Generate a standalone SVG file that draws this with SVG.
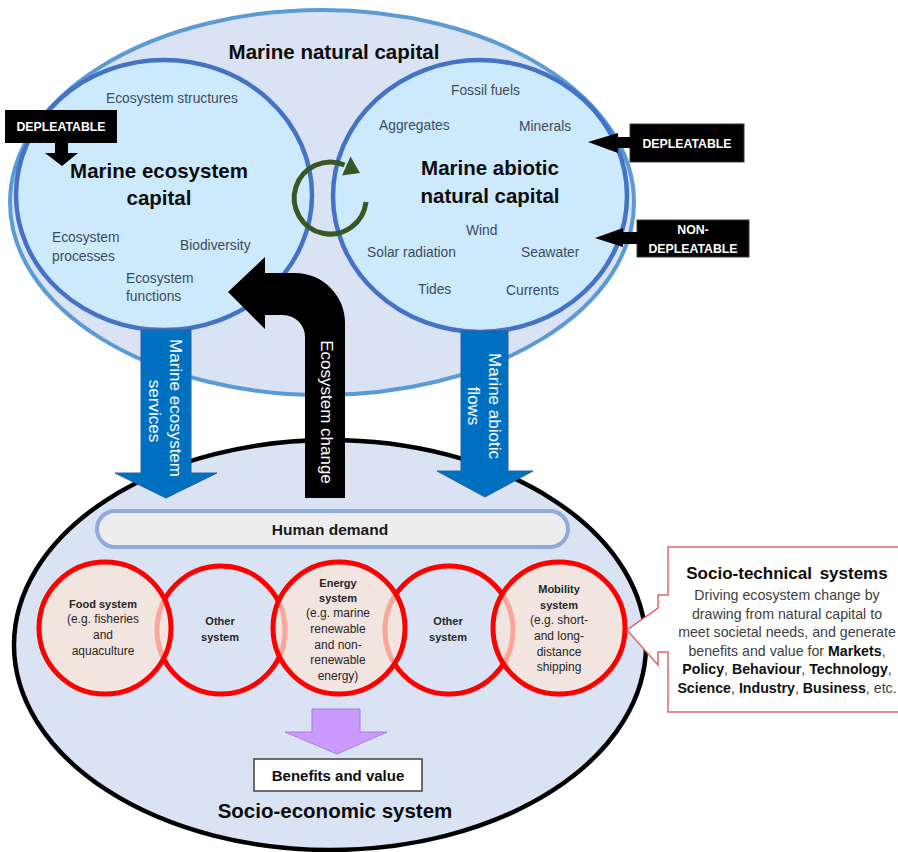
<svg xmlns="http://www.w3.org/2000/svg" width="898" height="852" viewBox="0 0 898 852">
  <style>
    text { font-family: "Liberation Sans", Arial, sans-serif; }
    .title { font-size: 20.5px; font-weight: bold; fill: #0d0d0d; text-anchor: middle; }
    .item { font-size: 13.8px; fill: #3b4a5e; }
    .tag { font-size: 12.3px; font-weight: bold; fill: #ffffff; text-anchor: middle; }
    .vert { font-size: 17px; fill: #ffffff; text-anchor: middle; }
    .sysb { font-size: 11px; font-weight: bold; fill: #262626; text-anchor: middle; }
    .sys { font-size: 12px; fill: #262626; text-anchor: middle; }
    .body { font-size: 14.2px; fill: #404040; text-anchor: middle; }
    .body tspan.b { font-weight: bold; fill: #111111; }
    .ring { fill: none; stroke: #ff0000; stroke-width: 5; }
    .ringf { fill: #fbe5d6; fill-opacity: 0.72; stroke: #ff0000; stroke-width: 5; }
    .inner { fill: #cdeafc; stroke: #4472c4; stroke-width: 4.5; }
    .flow { fill: #0070c0; stroke: #2e5f9e; stroke-width: 1; }
  </style>

  <!-- Marine natural capital -->
  <g id="marine-natural-capital">
    <ellipse cx="322" cy="202.5" rx="312" ry="192.5" fill="#dae3f3" stroke="#5b9bd5" stroke-width="4"/>
    <text class="title" x="334" y="59" font-size="21">Marine natural capital</text>
  </g>

  <!-- Marine ecosystem capital -->
  <g id="marine-ecosystem-capital">
    <ellipse class="inner" cx="164" cy="195" rx="148" ry="135"/>
    <text class="item" x="106" y="103">Ecosystem structures</text>
    <text class="title" x="159" y="178">Marine ecosystem</text>
    <text class="title" x="159" y="205">capital</text>
    <text class="item" x="52" y="242">Ecosystem</text>
    <text class="item" x="52" y="261">processes</text>
    <text class="item" x="180" y="250">Biodiversity</text>
    <text class="item" x="126" y="283">Ecosystem</text>
    <text class="item" x="126" y="301">functions</text>
  </g>

  <!-- Marine abiotic natural capital -->
  <g id="marine-abiotic-capital">
    <ellipse class="inner" cx="480" cy="196" rx="147" ry="136"/>
    <text class="item" x="451" y="95">Fossil fuels</text>
    <text class="item" x="379" y="130">Aggregates</text>
    <text class="item" x="519" y="131">Minerals</text>
    <text class="title" x="490" y="175">Marine abiotic</text>
    <text class="title" x="490" y="203">natural capital</text>
    <text class="item" x="466" y="235">Wind</text>
    <text class="item" x="367" y="257">Solar radiation</text>
    <text class="item" x="521" y="257">Seawater</text>
    <text class="item" x="418" y="294">Tides</text>
    <text class="item" x="506" y="295">Currents</text>
  </g>

  <!-- Interaction cycle between the two capitals -->
  <g id="cycle">
    <path d="M 366 202 A 36 36 0 1 1 344.5 165" fill="none" stroke="#385723" stroke-width="5"/>
    <polygon points="342,175.5 350.5,156.5 360,173" fill="#385723"/>
  </g>

  <!-- Socio-economic system -->
  <g id="socio-economic-system">
    <ellipse cx="330" cy="645" rx="316" ry="205" fill="#dae3f3" stroke="#000000" stroke-width="4.5"/>
    <text class="title" x="335" y="818" font-size="20">Socio-economic system</text>
  </g>

  <g id="human-demand">
    <rect x="97" y="511" width="471" height="36" rx="18" fill="#ededed" stroke="#8faadc" stroke-width="4"/>
    <text x="330" y="535" font-size="15.5" font-weight="bold" fill="#1a1a1a" text-anchor="middle">Human demand</text>
  </g>

  <!-- Systems (plain rings first, filled rings on top) -->
  <g id="other-system-1">
    <circle class="ring" cx="221" cy="630" r="64"/>
    <text class="sysb" x="220" y="625">Other</text>
    <text class="sysb" x="220" y="641">system</text>
  </g>
  <g id="other-system-2">
    <circle class="ring" cx="449" cy="630" r="64"/>
    <text class="sysb" x="448" y="625">Other</text>
    <text class="sysb" x="448" y="641">system</text>
  </g>
  <g id="food-system">
    <circle class="ringf" cx="105" cy="628" r="66"/>
    <text class="sysb" x="103" y="608">Food system</text>
    <text class="sys" x="103" y="623">(e.g. fisheries</text>
    <text class="sys" x="103" y="639">and</text>
    <text class="sys" x="103" y="655">aquaculture</text>
  </g>
  <g id="energy-system">
    <circle class="ringf" cx="339" cy="628" r="66"/>
    <text class="sysb" x="338" y="587">Energy</text>
    <text class="sysb" x="338" y="602">system</text>
    <text class="sys" x="338" y="617">(e.g. marine</text>
    <text class="sys" x="338" y="633">renewable</text>
    <text class="sys" x="338" y="649">and non-</text>
    <text class="sys" x="338" y="664">renewable</text>
    <text class="sys" x="338" y="680">energy)</text>
  </g>
  <g id="mobility-system">
    <circle class="ringf" cx="559" cy="628" r="66"/>
    <text class="sysb" x="559" y="593">Mobility</text>
    <text class="sysb" x="559" y="609">system</text>
    <text class="sys" x="559" y="624">(e.g. short-</text>
    <text class="sys" x="559" y="640">and long-</text>
    <text class="sys" x="559" y="656">distance</text>
    <text class="sys" x="559" y="671">shipping</text>
  </g>

  <g id="benefits-and-value">
    <rect x="254" y="759" width="168" height="32" fill="#ffffff" stroke="#404040" stroke-width="1.5"/>
    <text x="338" y="781" font-size="15" font-weight="bold" fill="#0d0d0d" text-anchor="middle">Benefits and value</text>
  </g>

  <!-- Depletion labels -->
  <g id="depleatable-ecosystem">
    <rect x="5" y="110" width="112" height="33" fill="#000000"/>
    <polygon points="55,142 68,142 68,153 78,153 62,166 45,153 55,153" fill="#000000"/>
    <text class="tag" x="61" y="131">DEPLEATABLE</text>
  </g>
  <g id="depleatable-abiotic">
    <rect x="630" y="124" width="114" height="38" fill="#000000" stroke="#3a3a3a" stroke-width="1"/>
    <polygon points="631,137 618,137 618,133 588,142 618,153 618,148 631,148" fill="#000000"/>
    <text class="tag" x="687" y="147.5">DEPLEATABLE</text>
  </g>
  <g id="non-depleatable-abiotic">
    <rect x="637" y="220" width="112" height="37" fill="#000000" stroke="#3a3a3a" stroke-width="1"/>
    <polygon points="638,232 623,232 623,228 595,238 623,247 623,244 638,244" fill="#000000"/>
    <text class="tag" x="693" y="234">NON-</text>
    <text class="tag" x="693" y="253">DEPLEATABLE</text>
  </g>

  <!-- Socio-technical systems callout -->
  <g id="socio-technical-systems">
    <path d="M 900 547 H 668 V 595 H 658 V 608 L 627 630 L 658 665 V 652 H 668 V 712 H 900" fill="#ffffff" stroke="#e06666" stroke-width="1.5"/>
    <text x="787" y="579" font-size="17" font-weight="bold" fill="#0d0d0d" text-anchor="middle" word-spacing="3">Socio-technical systems</text>
    <text class="body" x="787" y="600">Driving ecosystem change by</text>
    <text class="body" x="787" y="618.6">drawing from natural capital to</text>
    <text class="body" x="787" y="637.2">meet societal needs, and generate</text>
    <text class="body" x="787" y="655.8">benefits and value for <tspan class="b">Markets</tspan>,</text>
    <text class="body" x="787" y="674.4"><tspan class="b">Policy</tspan>, <tspan class="b">Behaviour</tspan>, <tspan class="b">Technology</tspan>,</text>
    <text class="body" x="787" y="693"><tspan class="b">Science</tspan>, <tspan class="b">Industry</tspan>,  <tspan class="b">Business</tspan>, etc.</text>
  </g>

  <!-- Connectors -->
  <g id="connectors">
    <g id="marine-ecosystem-services">
      <polygon class="flow" points="141,330 191,330 191,473 217,473 166,498 115,473 141,473"/>
      <text class="vert" transform="translate(170,408) rotate(90)">Marine ecosystem</text>
      <text class="vert" transform="translate(149,411) rotate(90)">services</text>
    </g>
    <g id="marine-abiotic-flows">
      <polygon class="flow" points="461,331 508,331 508,471 533,471 485,497 437,471 461,471"/>
      <text class="vert" transform="translate(489,406) rotate(90)">Marine abiotic</text>
      <text class="vert" transform="translate(468,406) rotate(90)">flows</text>
    </g>
    <g id="ecosystem-change">
      <path d="M 305 498 V 337 A 22 22 0 0 0 283 315 H 265 V 329 L 228 292 L 265 257 V 273 H 295 A 50 50 0 0 1 345 323 V 498 Z" fill="#000000"/>
      <text class="vert" transform="translate(321,412) rotate(90)">Ecosystem change</text>
    </g>
    <g id="to-benefits">
      <polygon points="312,709 360,709 360,732 387,732 337,754 285,732 312,732" fill="#cc99ff" stroke="#a77fd6" stroke-width="1"/>
    </g>
  </g>
</svg>
